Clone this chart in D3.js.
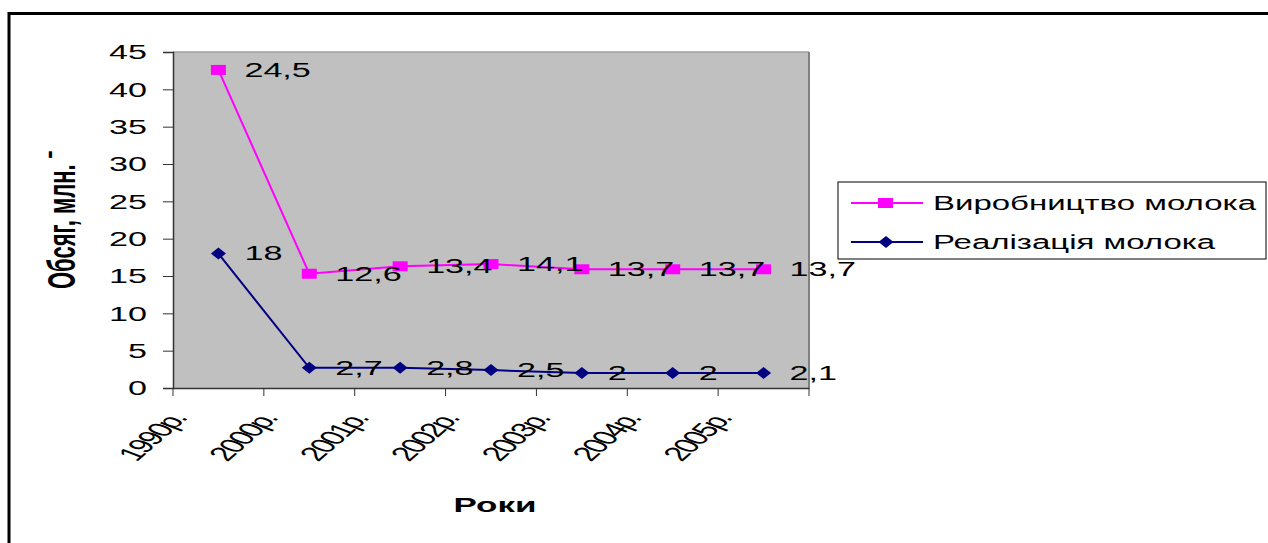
<!DOCTYPE html>
<html>
<head>
<meta charset="utf-8">
<script src="https://cdn.jsdelivr.net/npm/d3@7"></script>
<style>
  html, body { margin: 0; padding: 0; background: #fff; }
  svg { display: block; }
  text { font-family: Arial, "Liberation Sans", sans-serif; fill: #000; }
</style>
</head>
<body>
<svg id="chart" width="1268" height="543"></svg>
<script>
// ==========================================
// DATA
// ==========================================
const categories = ["1990р.", "2000р.", "2001р.", "2002р.", "2003р.", "2004р.", "2005р."];
const productionValues = [42.6, 15.3, 16.3, 16.6, 15.9, 15.9, 15.9];
const salesValues = [18, 2.7, 2.7, 2.4, 2.0, 2.0, 2.0];
// labels as printed on the chart (they don't follow the plotted values)
const productionLabels = ["24,5", "12,6", "13,4", "14,1", "13,7", "13,7", "13,7"];
const salesLabels = ["18", "2,7", "2,8", "2,5", "2", "2", "2,1"];
const yTicks = [0, 5, 10, 15, 20, 25, 30, 35, 40, 45];
const seriesNames = ["Виробництво молока", "Реалізація молока"];

// the whole picture is stretched sideways
const SX = 1.75;

const svg = d3.select("#chart");
const plot = { left: 173, right: 809, top: 52, bottom: 388 };

const x = d3.scaleBand().domain(categories).range([plot.left, plot.right]);
const y = d3.scaleLinear().domain([0, 45]).range([plot.bottom, plot.top]);
const cx = d => x(d) + x.bandwidth() / 2;

// outer frame
svg.append("rect")
  .attr("x", 9).attr("y", 13.5).attr("width", 1300).attr("height", 600)
  .attr("fill", "none").attr("stroke", "#000").attr("stroke-width", 3);

// plot area
svg.append("rect")
  .attr("x", plot.left).attr("y", plot.top)
  .attr("width", plot.right - plot.left).attr("height", plot.bottom - plot.top)
  .attr("fill", "#c0c0c0");
svg.append("line")
  .attr("x1", plot.left).attr("x2", plot.right).attr("y1", plot.top).attr("y2", plot.top)
  .attr("stroke", "#a0a0a0").attr("stroke-width", 1.5);
svg.append("line")
  .attr("x1", plot.right).attr("x2", plot.right).attr("y1", plot.top).attr("y2", plot.bottom)
  .attr("stroke", "#808080").attr("stroke-width", 2);

// ==========================================
// AXES
// ==========================================
const yAxis = svg.append("g")
  .attr("transform", `translate(${plot.left},0)`)
  .call(d3.axisLeft(y).tickValues(yTicks).tickSize(10).tickFormat(d => d));
yAxis.select(".domain").attr("stroke", "#333").attr("stroke-width", 1.5);
yAxis.selectAll(".tick line").attr("stroke", "#333");
yAxis.selectAll(".tick text")
  .attr("x", 0).attr("dy", "0.35em")
  .attr("transform", `translate(-26,0) scale(${SX},1)`)
  .style("font-size", "19.5px").attr("fill", "#000");

const xAxis = svg.append("g")
  .attr("transform", `translate(0,${plot.bottom})`)
  .call(d3.axisBottom(x).tickSize(8).tickSizeOuter(0).tickFormat(""));
xAxis.select(".domain").attr("stroke", "#333").attr("stroke-width", 1.5);
xAxis.selectAll(".tick line")
  .attr("stroke", "#333")
  .attr("x1", -x.bandwidth() / 2).attr("x2", -x.bandwidth() / 2);
xAxis.append("line")
  .attr("x1", plot.right).attr("x2", plot.right).attr("y1", 0).attr("y2", 8)
  .attr("stroke", "#333");

svg.append("g").selectAll("text")
  .data(categories).enter().append("text")
  .attr("text-anchor", "end")
  .attr("transform", d => `translate(${cx(d) - 31},${plot.bottom + 31}) scale(${SX},1) rotate(-56)`)
  .style("font-size", "20px")
  .style("letter-spacing", "-1.5px")
  .text(d => d);

// axis titles
svg.append("text")
  .attr("text-anchor", "middle")
  .attr("transform", `translate(495,512) scale(${SX},1)`)
  .style("font-size", "20px").style("font-weight", "bold")
  .text("Роки");

svg.append("text")
  .attr("text-anchor", "middle")
  .attr("transform", `translate(75,220) scale(${SX},1) rotate(-90)`)
  .style("font-size", "22px").style("font-weight", "bold")
  .text("Обсяг, млн. ˉ");

// ==========================================
// SERIES
// ==========================================
const line = d3.line().x((d, i) => cx(categories[i])).y(d => y(d));

const diamond = (px, py) => `M${px},${py - 6}L${px + 7.5},${py}L${px},${py + 6}L${px - 7.5},${py}Z`;

svg.append("path").datum(productionValues)
  .attr("d", line).attr("fill", "none")
  .attr("stroke", "#ff00ff").attr("stroke-width", 2);
svg.append("path").datum(salesValues)
  .attr("d", line).attr("fill", "none")
  .attr("stroke", "#000080").attr("stroke-width", 2);

svg.append("g").selectAll("rect")
  .data(productionValues).enter().append("rect")
  .attr("x", (d, i) => cx(categories[i]) - 7.5).attr("y", d => y(d) - 5)
  .attr("width", 15).attr("height", 10)
  .attr("fill", "#ff00ff");

svg.append("g").selectAll("path")
  .data(salesValues).enter().append("path")
  .attr("d", (d, i) => diamond(cx(categories[i]), y(d)))
  .attr("fill", "#000080");

// data labels
function addLabels(values, labels) {
  svg.append("g").selectAll("text")
    .data(values).enter().append("text")
    .attr("transform", (d, i) => `translate(${cx(categories[i]) + 26},${y(d)}) scale(${SX},1)`)
    .attr("dy", "0.35em")
    .style("font-size", "19.5px")
    .text((d, i) => labels[i]);
}
addLabels(productionValues, productionLabels);
addLabels(salesValues, salesLabels);

// ==========================================
// LEGEND
// ==========================================
const legend = svg.append("g");
legend.append("rect")
  .attr("x", 838).attr("y", 182).attr("width", 428).attr("height", 77)
  .attr("fill", "#fff").attr("stroke", "#000").attr("stroke-width", 1);

const legendRows = [
  { name: seriesNames[0], color: "#ff00ff", y: 203, marker: "square" },
  { name: seriesNames[1], color: "#000080", y: 242, marker: "diamond" }
];
legendRows.forEach(r => {
  legend.append("line")
    .attr("x1", 851).attr("x2", 923).attr("y1", r.y).attr("y2", r.y)
    .attr("stroke", r.color).attr("stroke-width", 2);
  if (r.marker === "square") {
    legend.append("rect")
      .attr("x", 878).attr("y", r.y - 5).attr("width", 15).attr("height", 10)
      .attr("fill", r.color);
  } else {
    legend.append("path").attr("d", diamond(886, r.y)).attr("fill", r.color);
  }
  legend.append("text")
    .attr("transform", `translate(933,${r.y}) scale(1.65,1)`)
    .attr("dy", "0.35em")
    .style("font-size", "20px")
    .text(r.name);
});
</script>
</body>
</html>
